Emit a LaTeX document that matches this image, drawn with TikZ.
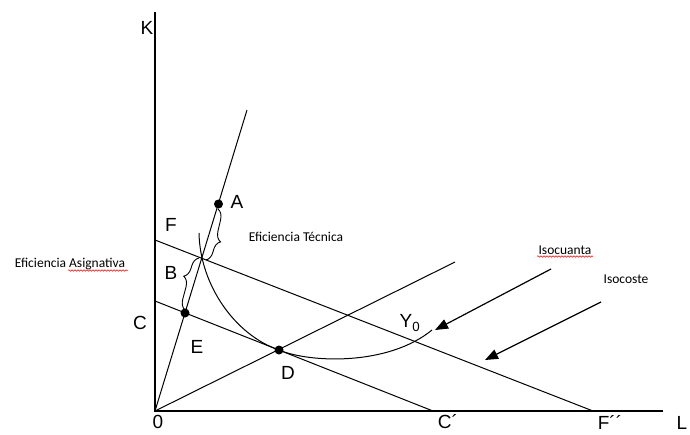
\documentclass[tikz,border=0pt]{standalone}
\usepackage{fontspec}
\setmainfont{Liberation Sans}
\newfontfamily\notefont{Carlito}
\usetikzlibrary{arrows.meta,decorations.pathreplacing,decorations.pathmorphing}

\begin{document}
\begin{tikzpicture}[x=1pt,y=-1pt,
  axis/.style={line width=1.3pt},
  ray/.style={line width=1pt},
  lbl/.style={font=\fontsize{19}{21}\selectfont,inner sep=0pt},
  note/.style={font=\notefont\fontsize{13.5}{15}\selectfont,inner sep=0pt},
  dot/.style={circle,fill,inner sep=0pt,minimum size=9pt},
  arrow/.style={-{Triangle[length=13pt,width=10pt]},line width=1.2pt},
  brace/.style={decorate,decoration={brace,amplitude=10pt,aspect=0.6},line width=0.9pt},
  squiggle/.style={decorate,decoration={snake,amplitude=0.8pt,segment length=3pt},red,line width=0.5pt}
]
  \useasboundingbox (0,0) rectangle (690,434);

  \coordinate (O) at (155,411);
  \coordinate (ktop) at (155,12);
  \coordinate (lend) at (663,411);
  \coordinate (rayA) at (247,110);
  \coordinate (rayD) at (455,262);
  \coordinate (fK) at (155,240);
  \coordinate (fL) at (593,411);
  \coordinate (cK) at (155,301);
  \coordinate (cL) at (433,411);

  \draw[axis] (ktop) -- (O) -- (lend);
  \draw[ray] (O) -- (rayA);
  \draw[ray] (O) -- (rayD);
  \draw[ray] (fK) -- (fL);
  \draw[ray] (cK) -- (cL);

  \coordinate (ytop) at (199,233);
  \coordinate (yend) at (432,330);
  \node[dot] (a) at (218.5,204) {};
  \node[dot] (e) at (185,313) {};
  \node[dot] (d) at (279,350) {};
  \draw[ray] (ytop) .. controls (200,285) and (235,335) .. (d.center)
    .. controls (310,363) and (388,366) .. (yend);

  \draw[brace] (218,209) -- (206,260);
  \draw[brace] (185,310) -- (199,258);

  \node[lbl] (k) at (147,28) {K};
  \node[lbl] (l) at (682,423) {L};
  \node[lbl] (zero) at (158,422) {0};
  \node[lbl] (cprime) at (448,422) {C´};
  \node[lbl] (fprime) at (610,422) {F´´};
  \node[lbl] (f) at (171,225) {F};
  \node[lbl] (alabel) at (237,202) {A};
  \node[lbl] (b) at (171,273) {B};
  \node[lbl] (c) at (140,323) {C};
  \node[lbl] (elabel) at (197,347) {E};
  \node[lbl] (dlabel) at (288,373) {D};
  \node[lbl] (y0) at (410,323) {Y\textsubscript{0}};

  \node[note] (tecnica) at (296,237) {Eficiencia Técnica};
  \node[note] (asignativa) at (70,264) {Eficiencia Asignativa};
  \node[note] (isocuanta) at (565,250) {Isocuanta};
  \node[note] (isocoste) at (626,279) {Isocoste};
  \draw[squiggle] (68,270.5) -- (128,270.5);
  \draw[squiggle] (537,256.5) -- (593,256.5);

  \coordinate (q0) at (551,269);
  \coordinate (q1) at (435,330);
  \coordinate (s0) at (601,302);
  \coordinate (s1) at (485,360);
  \draw[arrow] (q0) -- (q1);
  \draw[arrow] (s0) -- (s1);
\end{tikzpicture}
\end{document}
